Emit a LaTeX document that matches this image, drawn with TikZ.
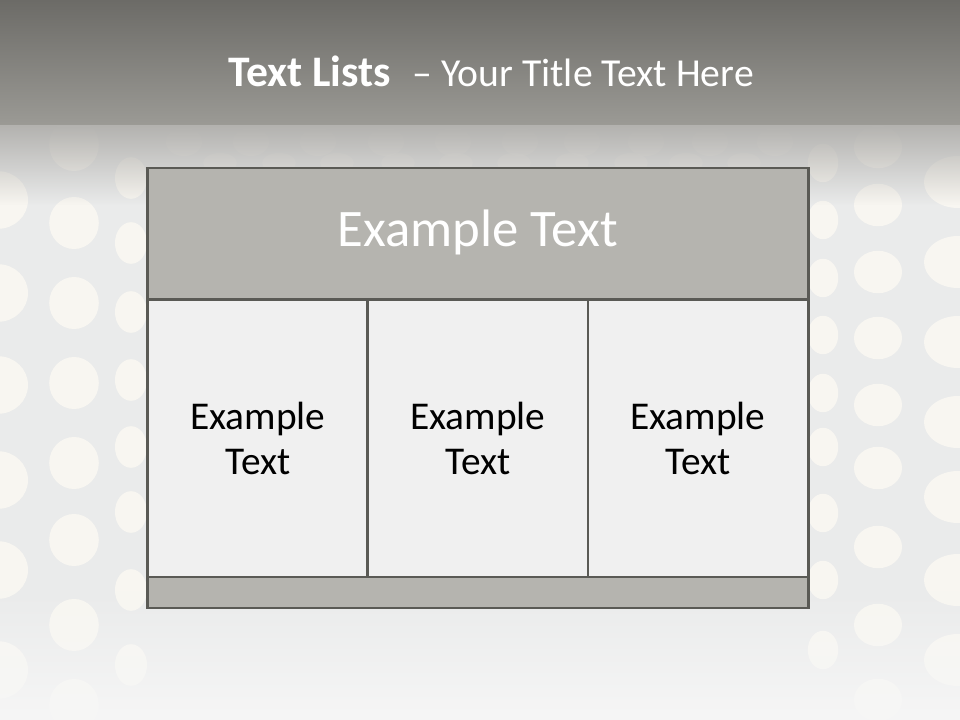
\documentclass[tikz,border=0pt]{standalone}
\usepackage{fontspec}
\setmainfont{Carlito}
\usepackage{tikz}
\usetikzlibrary{fadings}
\definecolor{frame}{RGB}{90,90,85}
\definecolor{hdrfill}{RGB}{181,180,175}
\definecolor{cellfill}{RGB}{240,240,240}
\definecolor{wall}{RGB}{234,235,235}
\definecolor{dot}{RGB}{248,246,241}
\definecolor{bandtop}{RGB}{108,107,103}
\definecolor{bandbot}{RGB}{155,154,149}
\begin{document}
\begin{tikzpicture}[x=0.025cm,y=-0.025cm,
  box/.style={draw=frame,line width=2.1pt,inner sep=0pt,outer sep=0pt},
  hdrbox/.style={box,fill=hdrfill,minimum width=16.5cm,minimum height=3.3cm},
  cellbox/.style={box,fill=cellfill,minimum width=5.5cm,minimum height=6.925cm,
    align=center,font=\fontsize{28}{32.5}\selectfont},
  footbox/.style={box,fill=hdrfill,minimum width=16.5cm,minimum height=0.775cm}]
\useasboundingbox (0,0) rectangle (960,720);
\fill[wall] (0,0) rectangle (960,720);
\foreach \cx/\rx/\ry/\rows in {-2/0.75/0.72/{200,293,385,480,570,670},
  74/0.62/0.65/{145,223,303,383,463,540,625,705},
  131/0.40/0.52/{178,243,312,380,447,512,590,665},
  823/0.38/0.48/{163,220,278,335,393,447,513,580,650},
  878/0.60/0.53/{147,205,272,338,405,468,547,625,700},
  958/0.85/0.65/{182,262,342,422,497,580,660}}
  \foreach \cy in \rows \fill[dot] (\cx,\cy) ellipse [x radius=\rx cm,y radius=\ry cm];
\foreach \cx in {184,251,318,386,453,520,582,646,710,775}
  \fill[dot,opacity=.5] (\cx,142) ellipse [x radius=0.45cm,y radius=0.35cm];
\foreach \cx in {220,279,337,398,456,514,572,631,686,744}
  \fill[dot,opacity=.5] (\cx,163) ellipse [x radius=0.42cm,y radius=0.25cm];
\fill[top color=bandtop,bottom color=bandbot] (0,0) rectangle (960,125);
\fill[bandbot!70!wall,path fading=south] (0,125) rectangle (960,205);
\fill[cellfill!60!white,path fading=north] (0,590) rectangle (960,720);
\node[anchor=base,text=white,font=\fontsize{28.2}{34}\selectfont] (title) at (491,87)
  {{\fontsize{31}{34}\selectfont\textbf{Text Lists}}\hspace{0.55em}– Your Title Text Here};
\node[hdrbox] (hdr) at (478,234) {};
\node[anchor=base,text=white,font=\fontsize{37.5}{42}\selectfont] (hdrtxt) at (478,247) {Example Text};
\node[cellbox] (c1) at (258,438.5) {Example\\Text};
\node[cellbox] (c2) at (478,438.5) {Example\\Text};
\node[cellbox] (c3) at (698,438.5) {Example\\Text};
\node[footbox] (foot) at (478,592.5) {};
\end{tikzpicture}
\end{document}
